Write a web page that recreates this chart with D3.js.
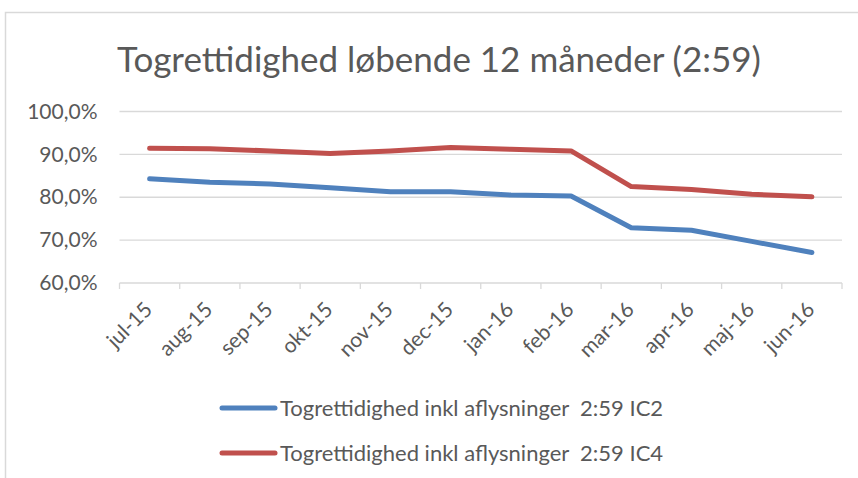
<!DOCTYPE html>
<html>
<head>
<meta charset="utf-8">
<script src="https://cdn.jsdelivr.net/npm/d3@7"></script>
<style>
  body { margin: 0; background: #fff; }
  text { font-family: Lato, "Open Sans", sans-serif; fill: #595959; }
</style>
</head>
<body>
<svg id="chart" width="858" height="478"></svg>
<script>
// chart data
const months = ["jul-15","aug-15","sep-15","okt-15","nov-15","dec-15","jan-16","feb-16","mar-16","apr-16","maj-16","jun-16"];
const ic2 = [84.3, 83.5, 83.1, 82.2, 81.3, 81.3, 80.5, 80.3, 72.9, 72.3, 69.7, 67.1];
const ic4 = [91.4, 91.3, 90.8, 90.2, 90.8, 91.6, 91.2, 90.8, 82.5, 81.8, 80.7, 80.1];
const yTicks = [60, 70, 80, 90, 100];
const seriesNames = ["Togrettidighed inkl aflysninger  2:59 IC2", "Togrettidighed inkl aflysninger  2:59 IC4"];
const colors = ["#4f81bd", "#c0504d"];

const svg = d3.select("#chart");
const margin = {top: 111.5, right: 16, bottom: 195, left: 119.5};
const width = 858 - margin.left - margin.right;
const height = 478 - margin.top - margin.bottom;

// chart frame
svg.append("path")
    .attr("d", "M5.5,478 V12.5 H858")
    .attr("fill", "none")
    .attr("stroke", "#d9d9d9")
    .attr("stroke-width", 1.5);

//Title
svg.append("text")
    .attr("x", 439)
    .attr("y", 72)
    .attr("text-anchor", "middle")
    .style("font-size", "35px")
    .text("Togrettidighed løbende 12 måneder (2:59)");

let g = svg.append("g").attr("transform", `translate(${margin.left},${margin.top})`);

let x = d3.scaleBand().domain(months).range([0, width]);
let y = d3.scaleLinear().domain([60, 100]).range([height, 0]);

//gridlines
g.selectAll(".grid").data(yTicks.slice(1)).enter().append("line")
    .attr("x1", 0).attr("x2", width)
    .attr("y1", d => y(d)).attr("y2", d => y(d))
    .attr("stroke", "#d9d9d9").attr("stroke-width", 1.3);

//y axis
let yAxis = g.append("g")
    .call(d3.axisLeft(y).tickValues(yTicks).tickSize(0).tickPadding(22)
        .tickFormat(d => d3.format(".1f")(d).replace(".", ",") + "%"));
yAxis.select(".domain").remove();
yAxis.selectAll("text").style("font-size", "21px").attr("fill", "#595959");

//x axis
let xAxis = g.append("g").attr("transform", `translate(0,${height})`);
xAxis.append("line").attr("x1", 0).attr("x2", width)
    .attr("stroke", "#d9d9d9").attr("stroke-width", 1.3);
let edges = months.map(m => x(m)).concat([width]);
xAxis.selectAll(".tk").data(edges).enter().append("line")
    .attr("x1", d => d).attr("x2", d => d)
    .attr("y1", 0).attr("y2", 6)
    .attr("stroke", "#d9d9d9").attr("stroke-width", 1.3);
xAxis.selectAll(".lbl").data(months).enter().append("text")
    .attr("text-anchor", "end")
    .attr("transform", d => `translate(${x(d) + x.bandwidth() / 2 + 4},${28}) rotate(-45)`)
    .style("font-size", "21px")
    .text(d => d);

//lines
let line = d3.line()
    .x((d, i) => x(months[i]) + x.bandwidth() / 2)
    .y(d => y(d));

[ic2, ic4].forEach((s, i) => {
    g.append("path")
        .datum(s)
        .attr("d", line)
        .attr("fill", "none")
        .attr("stroke", colors[i])
        .attr("stroke-width", 5)
        .attr("stroke-linecap", "round")
        .attr("stroke-linejoin", "round");
});

//legend
let legend = svg.append("g");
seriesNames.forEach((n, i) => {
    let ly = 408 + i * 45;
    legend.append("line")
        .attr("x1", 222).attr("x2", 275)
        .attr("y1", ly).attr("y2", ly)
        .attr("stroke", colors[i]).attr("stroke-width", 5)
        .attr("stroke-linecap", "round");
    legend.append("text")
        .attr("x", 280).attr("y", ly)
        .attr("dy", "0.35em")
        .attr("xml:space", "preserve")
        .style("white-space", "pre")
        .style("font-size", "22px")
        .text(n);
});
</script>
</body>
</html>
